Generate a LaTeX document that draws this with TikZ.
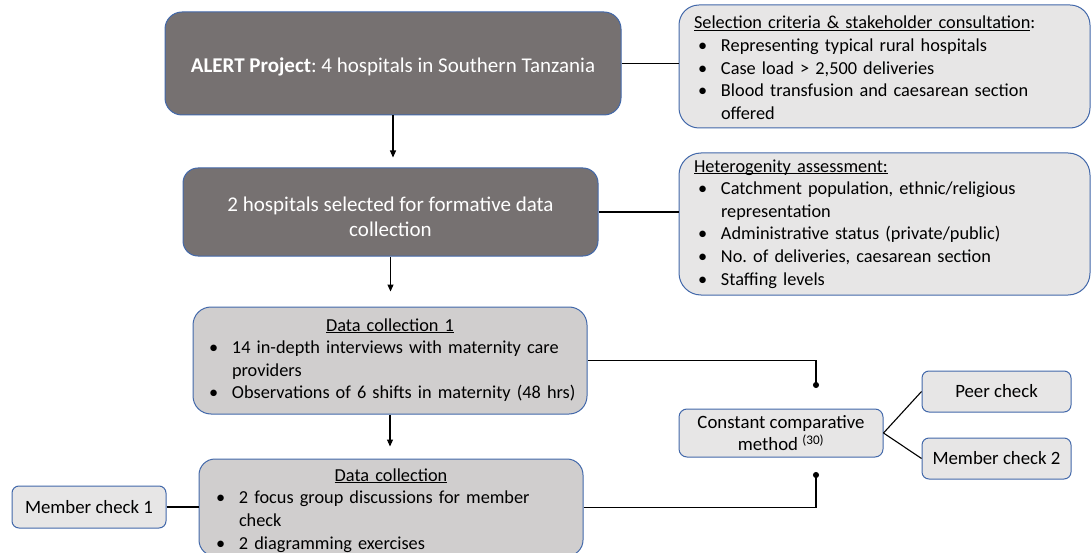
\documentclass[tikz,border=0pt]{standalone}
\usepackage{fontspec}
\setmainfont{Carlito}
\usetikzlibrary{arrows.meta}
\definecolor{boxdark}{HTML}{767171}
\definecolor{boxmid}{HTML}{D0CECE}
\definecolor{boxlight}{HTML}{E7E6E6}
\definecolor{boxline}{HTML}{4268AA}
\frenchspacing
\newcommand{\uln}[1]{\underline{\smash{#1}}\strut}
\newcommand{\btitle}[1]{\noindent\hfill#1\hfill\null\par}
\newcommand{\bitem}[1]{\par\noindent\makebox[27pt][l]{\hspace{4pt}\textbullet}\mbox{#1}\strut}
\newcommand{\bmore}[1]{\par\noindent\hspace*{27pt}\mbox{#1}\strut}
\begin{document}
\begin{tikzpicture}[
			x=1pt, y=-1pt,
			box/.style = {draw=boxline, line width=1pt, inner sep=0pt, font=\fontsize{18.8}{22.6}\selectfont},
			dark/.style = {box, fill=boxdark, text=white, align=center, font=\fontsize{21}{25}\selectfont},
			light/.style = {box, fill=boxlight},
			mid/.style = {box, fill=boxmid},
			listbox/.style = {font=\fontsize{18.3}{22.6}\selectfont},
			link/.style = {draw, line width=1.1pt},
			flow/.style = {link, -{Triangle[length=7pt,width=6pt]}},
			dotted end/.style = {link, -{Circle[length=6pt]}},
			]
			\useasboundingbox (0,0) rectangle (1091,553);
			\node[dark, rounded corners=17pt, minimum width=456pt, minimum height=103pt] (alert) at (393,63.5) {\rule{0pt}{22pt}\textbf{ALERT Project}: 4 hospitals in Southern Tanzania};
			\node[light, listbox, rounded corners=20pt, minimum width=411pt, minimum height=123pt, text width=381pt] (criteria) at (884.5,66.5) {\noindent\rule{0pt}{22pt}\uln{Selection criteria \& stakeholder consultation}:
				\bitem{Representing typical rural hospitals}
				\bitem{Case load > 2,500 deliveries}
				\bitem{Blood transfusion and caesarean section}
				\bmore{offered}};
			\node[dark, rounded corners=15pt, minimum width=415pt, minimum height=88pt] (selected) at (390.5,212) {\rule{0pt}{23.5pt}2 hospitals selected for formative data\\collection};
			\node[light, listbox, rounded corners=22pt, minimum width=411pt, minimum height=142pt, text width=381pt] (hetero) at (884.5,224) {\noindent\uln{Heterogenity assessment:}
				\bitem{Catchment population, ethnic/religious}
				\bmore{representation}
				\bitem{Administrative status (private/public)}
				\bitem{No. of deliveries, caesarean section}
				\bitem{Staffing levels}};
			\node[mid, listbox, rounded corners=18pt, minimum width=394pt, minimum height=107pt, text width=370pt] (collect1) at (390,360.5) {\btitle{\uln{Data collection 1}}
				\bitem{14 in-depth interviews with maternity care}
				\bmore{providers}
				\bitem{Observations of 6 shifts in maternity (48 hrs)}};
			\node[mid, listbox, rounded corners=16pt, minimum width=384pt, minimum height=97pt, text width=358pt] (collect2) at (391,507.5) {\btitle{\rule{0pt}{22pt}\uln{Data collection}}
				\bitem{2 focus group discussions for member}
				\bmore{check}
				\bitem{2 diagramming exercises}};
			\node[light, rounded corners=7pt, minimum width=154pt, minimum height=42pt] (member1) at (89,507) {Member check 1};
			\node[light, rounded corners=8pt, minimum width=204pt, minimum height=48pt, align=center] (compare) at (781,433) {Constant comparative\\method \textsuperscript{(30)}};
			\node[light, rounded corners=7pt, minimum width=149pt, minimum height=41pt] (peer) at (996.5,391.5) {Peer check};
			\node[light, rounded corners=7pt, minimum width=149pt, minimum height=41pt] (member2) at (996.5,458.5) {Member check 2};
			\coordinate (dot1) at (816,388);
			\coordinate (dot2) at (816,472);
			\draw[link] (alert.east) -- (alert.east -| criteria.west);
			\draw[link] (selected.east) -- (selected.east -| hetero.west);
			\draw[flow, shorten >=10pt] (alert.south) -- (alert.south |- selected.north);
			\draw[flow, shorten >=15pt] (selected.south) -- (selected.south |- collect1.north);
			\draw[flow, shorten >=12pt] (collect1.south) -- (collect1.south |- collect2.north);
			\draw[dotted end] (collect1.east) -| (dot1);
			\draw[dotted end] (collect2.east) -| (dot2);
			\draw[link] (member1.east) -- (member1.east -| collect2.west);
			\draw[link] (compare.east) -- (peer.west);
			\draw[link] (compare.east) -- (member2.west);
		\end{tikzpicture}
\end{document}
